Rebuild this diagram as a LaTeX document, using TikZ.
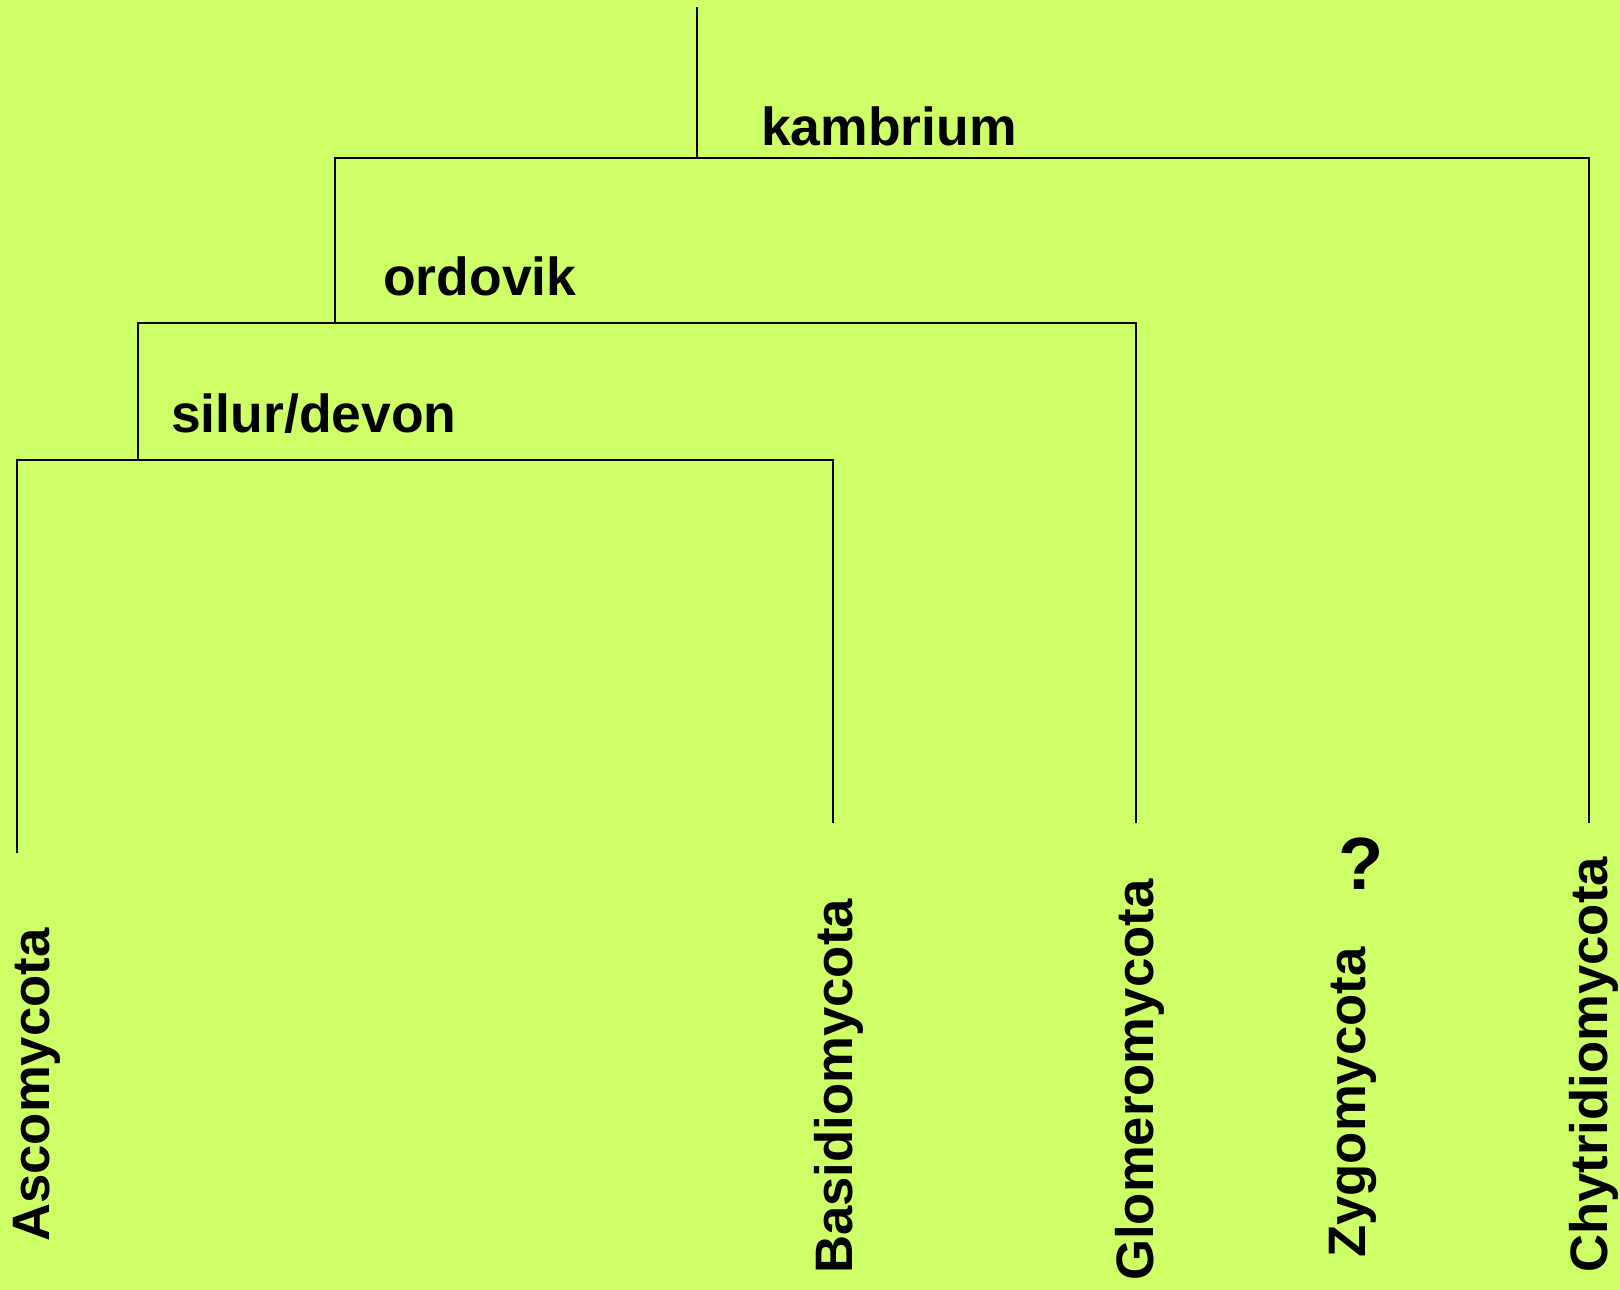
\documentclass[tikz,border=0pt]{standalone}
\usepackage{fontspec}
\setmainfont{Liberation Sans}
\definecolor{bg}{RGB}{206,255,102}
\begin{document}
\begin{tikzpicture}[x=1pt,y=-1pt,
  lab/.style={font=\fontsize{53.5}{60}\selectfont\bfseries, inner sep=0pt, text=black},
  taxon/.style={lab, font=\fontsize{52.7}{60}\selectfont\bfseries, rotate=90, anchor=base west},
  era/.style={lab, anchor=base west},
  branch/.style={draw=black, line width=1.3pt, line join=miter}]
\fill[bg] (0,0) rectangle (1620,1290);
\useasboundingbox (0,0) rectangle (1620,1290);
% tree points
\coordinate (root) at (697,7);
\coordinate (kJ) at (697,158);
\coordinate (kL) at (335,158);
\coordinate (kR) at (1589,158);
\coordinate (chyEnd) at (1589,823);
\coordinate (oJ) at (335,323);
\coordinate (oL) at (138,323);
\coordinate (oR) at (1136,323);
\coordinate (gloEnd) at (1136,823);
\coordinate (sJ) at (138,460);
\coordinate (sL) at (17,460);
\coordinate (sR) at (833,460);
\coordinate (ascEnd) at (17,853);
\coordinate (basEnd) at (833,823);
% branches
\draw[branch] (root) -- (kJ);
\draw[branch] (oJ) -- (kL) -- (kR) -- (chyEnd);
\draw[branch] (sJ) -- (oL) -- (oR) -- (gloEnd);
\draw[branch] (ascEnd) -- (sL) -- (sR) -- (basEnd);
% era labels
\node[era] (kambrium) at (761,145) {kambrium};
\node[era] (ordovik) at (383,295) {ordovik};
\node[era] (silur) at (171,432) {silur/devon};
% taxa
\node[taxon] (asco) at (49,1242) {Ascomycota};
\node[taxon] (basi) at (852,1274) {Basidiomycota};
\node[taxon] (glom) at (1153,1281) {Glomeromycota};
\node[taxon] (zygo) at (1365,1258) {Zygomycota};
\node[taxon] (chyt) at (1607,1273) {Chytridiomycota};
\node[lab, font=\fontsize{74}{80}\selectfont\bfseries] (q) at (1361,864) {?};
\end{tikzpicture}
\end{document}
